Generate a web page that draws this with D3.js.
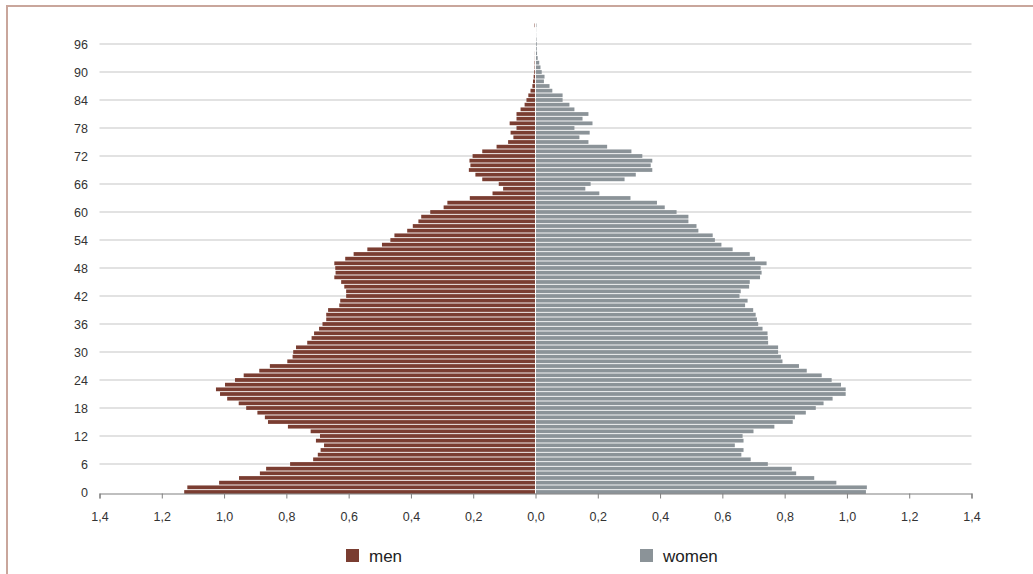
<!DOCTYPE html>
<html><head><meta charset="utf-8">
<script src="https://cdn.jsdelivr.net/npm/d3@7"></script>
<style>
body{margin:0;background:#fff}
svg{display:block}
text{font-family:"Liberation Sans",Arial,sans-serif}
</style>
</head><body>
<svg id="c" width="1033" height="574"></svg>
<script>
const ages = d3.range(0, 101);
const men = [
1.128,1.118,1.016,0.952,0.885,0.865,0.788,0.714,0.699,0.690,
0.679,0.705,0.692,0.722,0.795,0.859,0.869,0.893,0.929,0.953,
0.990,1.013,1.026,0.997,0.965,0.937,0.887,0.853,0.797,0.780,
0.778,0.769,0.733,0.719,0.711,0.695,0.684,0.672,0.672,0.666,
0.630,0.627,0.608,0.608,0.614,0.624,0.646,0.642,0.643,0.646,
0.611,0.584,0.540,0.493,0.466,0.453,0.412,0.394,0.376,0.367,
0.338,0.295,0.283,0.211,0.138,0.104,0.118,0.171,0.193,0.214,
0.209,0.212,0.202,0.171,0.125,0.088,0.071,0.080,0.061,0.083,
0.061,0.061,0.048,0.035,0.029,0.023,0.016,0.010,0.008,0.006,
0.004,0.003,0.003,0.002,0.002,0.001,0.001,0.001,0.001,0.001,0.003
];
const women = [
1.061,1.064,0.966,0.895,0.837,0.823,0.746,0.691,0.661,0.668,
0.640,0.668,0.665,0.700,0.767,0.826,0.833,0.868,0.900,0.925,
0.954,0.996,0.996,0.981,0.951,0.919,0.871,0.846,0.793,0.788,
0.779,0.779,0.747,0.746,0.745,0.729,0.715,0.711,0.707,0.699,
0.673,0.681,0.655,0.659,0.686,0.688,0.721,0.726,0.723,0.742,
0.705,0.688,0.633,0.597,0.576,0.569,0.523,0.517,0.491,0.491,
0.453,0.415,0.390,0.305,0.205,0.160,0.177,0.286,0.322,0.375,
0.370,0.375,0.343,0.308,0.230,0.170,0.141,0.174,0.125,0.183,
0.151,0.170,0.125,0.109,0.087,0.087,0.054,0.045,0.027,0.029,
0.020,0.016,0.012,0.007,0.005,0.004,0.004,0.003,0.002,0.002,0.003
];
const yTickAges = d3.range(0, 97, 6);
const xTickValues = [-1.4,-1.2,-1.0,-0.8,-0.6,-0.4,-0.2,0,0.2,0.4,0.6,0.8,1.0,1.2,1.4];
const seriesNames = ["men", "women"];
const seriesColors = ["#7a3d31", "#8b9398"];

const svg = d3.select("#c");
svg.append("rect").attr("width", 1033).attr("height", 574).attr("fill", "#fff");

// outer frame
svg.append("path").attr("d", "M7,574V6H1033")
  .attr("fill", "none").attr("stroke", "#c9a69c").attr("stroke-width", 2);

const x = d3.scaleLinear().domain([-1.4, 1.4]).range([99.5, 971.5]);
const y = d3.scaleBand().domain(ages).range([494.33, 23]);
const bw = y.bandwidth();
const yc = a => y(a) + bw / 2;

// gridlines
svg.append("g").selectAll("line").data(yTickAges.filter(a => a > 0)).join("line")
  .attr("x1", x(-1.4)).attr("x2", x(1.4))
  .attr("y1", d => yc(d)).attr("y2", d => yc(d))
  .attr("stroke", "#d9d9d9").attr("stroke-width", 1.3);

// bars
const gap = 0.5;
svg.append("g").selectAll("rect").data(ages).join("rect")
  .attr("x", a => x(-men[a]))
  .attr("width", a => Math.max(0, x(0) - x(-men[a]) - gap))
  .attr("y", a => y(a) + 0.45).attr("height", bw - 0.9)
  .attr("fill", seriesColors[0]);
svg.append("g").selectAll("rect").data(ages).join("rect")
  .attr("x", x(0) + gap)
  .attr("width", a => Math.max(0, x(women[a]) - x(0) - gap))
  .attr("y", a => y(a) + 0.45).attr("height", bw - 0.9)
  .attr("fill", seriesColors[1]);

// x axis
const axisY = 493.5;
const xAxis = d3.axisBottom(x).tickValues(xTickValues).tickSize(5)
  .tickFormat(d => d3.format(".1f")(Math.abs(d)).replace(".", ","));
const gx = svg.append("g").attr("transform", `translate(0,${axisY})`).call(xAxis);
gx.select(".domain").attr("stroke", "#808080").attr("stroke-width", 1.2);
gx.selectAll(".tick line").attr("stroke", "#808080");
gx.selectAll(".tick text").attr("fill", "#333").attr("font-size", 12.5).attr("dy", "1.55em");

// y labels
svg.append("g").selectAll("text").data(yTickAges).join("text")
  .attr("x", 88).attr("y", d => yc(d)).attr("dy", "0.38em")
  .attr("text-anchor", "end").attr("font-size", 12.5).attr("fill", "#333")
  .text(d => d);

// legend
const legendX = [346, 640];
const lg = svg.append("g").selectAll("g").data(seriesNames).join("g")
  .attr("transform", (d, i) => `translate(${legendX[i]},549)`);
lg.append("rect").attr("width", 13).attr("height", 13).attr("fill", (d, i) => seriesColors[i]);
lg.append("text").attr("x", 23).attr("y", 13).attr("font-size", 17).attr("fill", "#222").text(d => d);
</script>
</body></html>
